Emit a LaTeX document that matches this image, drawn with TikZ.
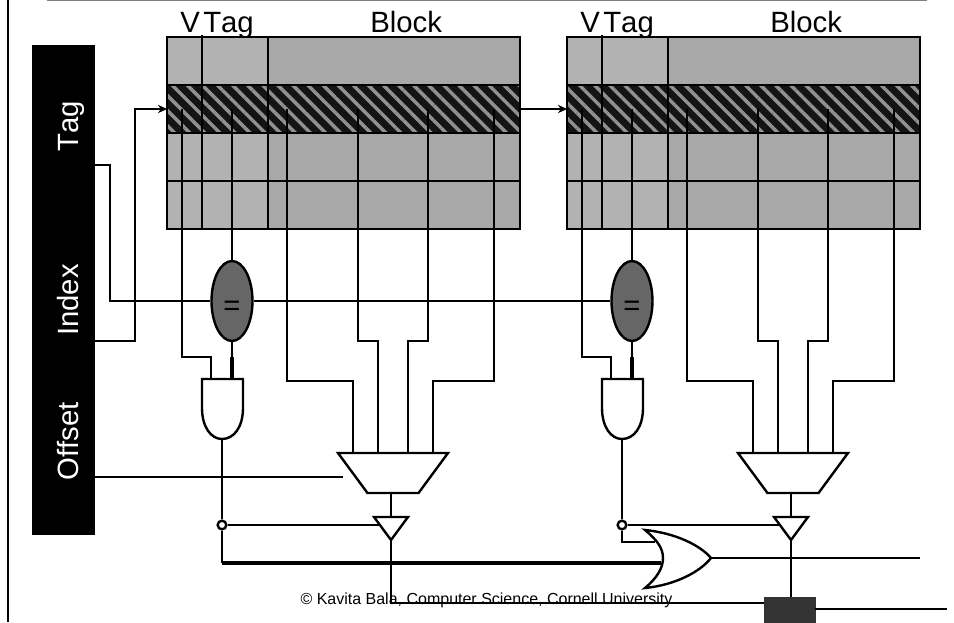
\documentclass[tikz,border=0pt]{standalone}
\usepackage{fontspec}
\setmainfont[Kerning=Off]{Liberation Sans}
\usetikzlibrary{arrows.meta,calc,patterns.meta,shapes.geometric}
\definecolor{tc}{RGB}{178,178,178}
\definecolor{bc}{RGB}{168,168,168}
\definecolor{hc}{RGB}{20,20,20}
\definecolor{sc}{RGB}{145,145,145}
\definecolor{ec}{RGB}{102,102,102}
\definecolor{rg}{RGB}{51,51,51}
\tikzset{wire/.style={line width=1.8pt,line join=miter},thk/.style={line width=2.5pt},
 arr/.style={wire,-{Stealth[length=2.4mm,width=2.2mm]}},
 cell/.style={draw,line width=2pt,inner sep=0pt,outer sep=0pt,minimum height=36pt},
 tg/.style={cell,fill=tc,minimum width=75.75pt},bk/.style={cell,fill=bc,minimum width=189pt},
 hatch/.style={preaction={fill=hc},pattern={Lines[angle=-45,distance=8pt,line width=2.6pt]},pattern color=sc},
 cmp/.style={ellipse,draw,fill=ec,line width=1.8pt,inner sep=0pt,minimum width=30.75pt,minimum height=60pt},
 mux/.style={trapezium,draw,fill=white,line width=1.8pt,shape border rotate=180,trapezium stretches=true,inner sep=1pt,outer sep=0pt,minimum width=82.5pt,minimum height=30pt},
 gate/.style={draw,fill=white,line width=1.8pt,line join=miter},
 lab/.style={font=\fontsize{22}{24}\selectfont,inner sep=0pt},
 side/.style={lab,text=white,rotate=90,anchor=base}}

\begin{document}
\begin{tikzpicture}[x=.75pt,y=-.75pt]
\useasboundingbox (0,0) rectangle (954,622);
\draw[line width=1.3pt,gray] (47,0.5) coordinate (ta) -- (927,0.5) coordinate (tb);
\draw[line width=1.8pt] (8,0) coordinate (la) -- (8,622) coordinate (lb);
% address field
\node[fill=black,inner sep=0pt,outer sep=0pt,minimum width=46.9pt,minimum height=367.5pt] (addr) at (63.25,289.5) {};
\node[side] (tagl) at (78,126) {Tag};
\node[side] (idxl) at (78,300) {Index};
\node[side] (offl) at (78,441) {Offset};
% the two ways, second is 400px to the right
\foreach \c/\dx in {1/0pt,2/300pt}{
\begin{scope}[xshift=\dx]
\node[lab,anchor=base west] (vl\c) at (180,32) {V};
\node[lab,anchor=base west] (tl\c) at (203,32) {Tag};
\node[lab,anchor=base west] (bl\c) at (370,32) {Block};
\foreach \r/\y in {1/61,2/109,3/157,4/205}{
\node[tg] (tg\c\r) at (217.5,\y) {};
\node[bk] (bk\c\r) at (394,\y) {};
}
\node[tg,hatch] (tg\c2) at (217.5,109) {};
\node[bk,hatch] (bk\c2) at (394,109) {};
\draw[wire] (202,35) coordinate (vt\c) -- (202,229) coordinate (vb\c);
\draw[line width=2pt] (268,36) coordinate (st\c) -- (268,230) coordinate (sb\c);
\coordinate (w1\c) at (182,109);\coordinate (w2\c) at (232,109);\coordinate (w3\c) at (287,109);
\coordinate (w4\c) at (358,109);\coordinate (w5\c) at (428,109);\coordinate (w6\c) at (494,109);
\coordinate (a1\c) at (211,379);\coordinate (a2\c) at (232,379);\coordinate (ao\c) at (222,439);
\node[cmp] (eq\c) at (232,301) {};
\node[lab] (eqt\c) at (232,308) {=};
\draw[wire] (w1\c) -- (182,357) -- (211,357) -- (a1\c);
\draw[wire] (w2\c) -- (eq\c.north);
\draw[wire] (eq\c.south) -- (a2\c);
\draw[thk] (232,357) coordinate (ah\c) -- (a2\c);
\draw[wire] (w3\c) -- (287,381) -- (353,381) -- (353,453) coordinate (m1\c);
\draw[wire] (w4\c) -- (358,341) -- (378,341) -- (378,453) coordinate (m2\c);
\draw[wire] (w5\c) -- (428,341) -- (408,341) -- (408,453) coordinate (m3\c);
\draw[wire] (w6\c) -- (494,381) -- (433,381) -- (433,453) coordinate (m4\c);
\node[mux] (mx\c) at (393,473) {};
\draw[gate] (202,379) -- (243,379) -- (243,408) .. controls (243,427) and (234,439) .. (222,439) .. controls (211,439) and (202,427) .. (202,408) -- cycle;
\coordinate (tr\c) at (391,517);\coordinate (tp\c) at (391,540);\coordinate (tq\c) at (380,525);
\draw[wire] (mx\c.south -| tr\c) -- (tr\c);
\draw[gate] (374,517) -- (408,517) -- (tp\c) -- cycle;
\node[circle,draw,line width=1.8pt,fill=white,inner sep=0pt,minimum size=6.5pt] (jn\c) at (222,525) {};
\draw[wire] (ao\c) -- (jn\c.north);
\draw[wire] (jn\c.east) -- (tq\c);
\end{scope}
}
% connections between the parts
\coordinate (idxo) at (94.5,341);\coordinate (tago) at (94.5,165);
\draw[arr] (idxo) -- (135,341) -- (135,109) -- (tg12.west);
\draw[wire] (tago) -- (110,165) -- (110,301) -- (eq1.west);
\draw[wire] (eq1.east) -- (eq2.west);
\draw[arr] (bk12.east) -- (tg22.west);
\coordinate (offo) at (94.5,477);\coordinate (mxi) at (343,477);
\draw[wire] (offo) -- (mxi);
% hit logic
\node[fill=rg,draw=rg,inner sep=0pt,outer sep=0pt,minimum width=38.25pt,minimum height=18.75pt] (rgs) at (789.5,609.5) {};
\draw[wire] (jn1.south) -- (222,563) coordinate (hl);
\draw[thk] (hl) -- (661,563) coordinate (ori);
\draw[wire] (jn2.south) -- (622,542) -- (655,542) coordinate (orj);
\draw[gate] (645,530) .. controls (675,533) and (700,545) .. (711,558) coordinate (oro) .. controls (700,572) and (675,585) .. (645,588) .. controls (657,578) and (663,568) .. (663,558) .. controls (663,548) and (657,540) .. (645,530) -- cycle;
\draw[wire] (oro) -- (920,558) coordinate (hit);
\draw[wire] (tp1) -- (391,603) -- (rgs.west |- 0,603);
\draw[wire] (tp2) -- (tp2 |- rgs.north);
\coordinate (rgo) at (rgs.east |- 0,609);
\draw[wire] (rgo) -- (947,609) coordinate (dat);
\node[font=\fontsize{12}{14}\selectfont,inner sep=0pt] (cr) at (486.5,600) {© Kavita Bala, Computer Science, Cornell University};
\end{tikzpicture}
\end{document}
